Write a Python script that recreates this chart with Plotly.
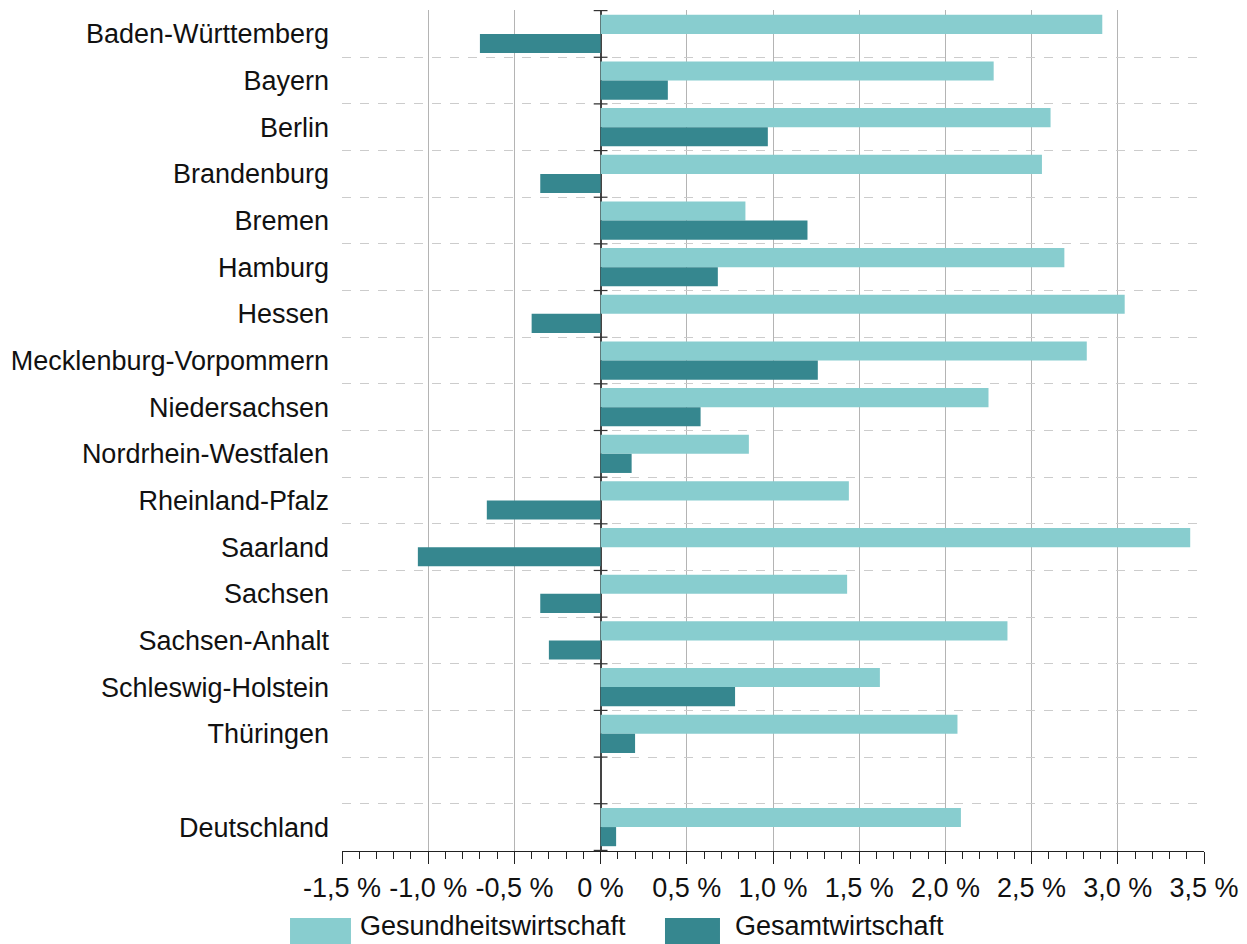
import plotly.graph_objects as go

categories = ["Baden-Württemberg", "Bayern", "Berlin", "Brandenburg", "Bremen", "Hamburg",
              "Hessen", "Mecklenburg-Vorpommern", "Niedersachsen", "Nordrhein-Westfalen",
              "Rheinland-Pfalz", "Saarland", "Sachsen", "Sachsen-Anhalt", "Schleswig-Holstein",
              "Thüringen", " ", "Deutschland"]

gesundheit = [2.91, 2.28, 2.61, 2.56, 0.84, 2.69, 3.04, 2.82, 2.25, 0.86,
              1.44, 3.42, 1.43, 2.36, 1.62, 2.07, None, 2.09]
gesamt = [-0.70, 0.39, 0.97, -0.35, 1.20, 0.68, -0.40, 1.26, 0.58, 0.18,
          -0.66, -1.06, -0.35, -0.30, 0.78, 0.20, None, 0.09]

x_ticks = [-1.5, -1.0, -0.5, 0, 0.5, 1.0, 1.5, 2.0, 2.5, 3.0, 3.5]
x_ticktext = ["-1,5 %", "-1,0 %", "-0,5 %", "0 %", "0,5 %", "1,0 %", "1,5 %",
              "2,0 %", "2,5 %", "3,0 %", "3,5 %"]

series_names = ["Gesundheitswirtschaft", "Gesamtwirtschaft"]
colors = ["#88CDCF", "#36878F"]

FONT = "Liberation Sans, Arial, sans-serif"
FS = 27

fig = go.Figure()
fig.add_trace(go.Bar(y=categories, x=gesundheit, orientation="h", name=series_names[0],
                     marker=dict(color=colors[0], line=dict(width=0))))
fig.add_trace(go.Bar(y=categories, x=gesamt, orientation="h", name=series_names[1],
                     marker=dict(color=colors[1], line=dict(width=0))))

# small tick marks on the zero line at category boundaries
shapes = []
for k in range(len(categories) + 1):
    shapes.append(dict(type="line", xref="x", yref="y", x0=-0.04, x1=0.04,
                       y0=k - 0.5, y1=k - 0.5, line=dict(color="#333333", width=1.2)))

# manual legend (large swatches)
annotations = []
legend_items = [(-0.0603, 0.0104, 0.0185), (0.3747, 0.4385, 0.4536)]
for (x0, x1, xt), name, col in zip(legend_items, series_names, colors):
    shapes.append(dict(type="rect", xref="paper", yref="paper", x0=x0, x1=x1,
                       y0=-0.125, y1=-0.0797, fillcolor=col, line=dict(width=0)))
    annotations.append(dict(xref="paper", yref="paper", x=xt, y=-0.1095, text=name,
                            showarrow=False, xanchor="left", yanchor="bottom",
                            font=dict(family=FONT, size=FS, color="#111111")))

fig.update_layout(
    width=1239, height=936,
    margin=dict(l=334, r=43, t=2, b=93),
    barmode="group", bargap=0.18, bargroupgap=0,
    plot_bgcolor="white", paper_bgcolor="white",
    showlegend=False,
    font=dict(family=FONT, size=FS, color="#111111"),
    shapes=shapes, annotations=annotations,
    xaxis=dict(range=[-1.5, 3.5], tickvals=x_ticks, ticktext=x_ticktext,
               showgrid=True, gridcolor="#b4b4b4", gridwidth=1,
               zeroline=True, zerolinecolor="#444444", zerolinewidth=1.5,
               showline=True, linecolor="#222222", linewidth=1.2,
               ticks="outside", ticklen=12, tickcolor="#222222", tickwidth=1.2,
               minor=dict(dtick=0.1, tick0=0, ticks="outside", ticklen=7,
                          tickcolor="#222222", tickwidth=1, showgrid=False),
               tickfont=dict(family=FONT, size=FS, color="#111111"), fixedrange=True),
    yaxis=dict(autorange="reversed", type="category", tickson="boundaries",
               showgrid=True, gridcolor="#cccccc", griddash="dash", gridwidth=1,
               ticks="", showline=False, ticklabelstandoff=12,
               tickfont=dict(family=FONT, size=FS, color="#111111"), fixedrange=True),
)

fig.write_html("out.html")
